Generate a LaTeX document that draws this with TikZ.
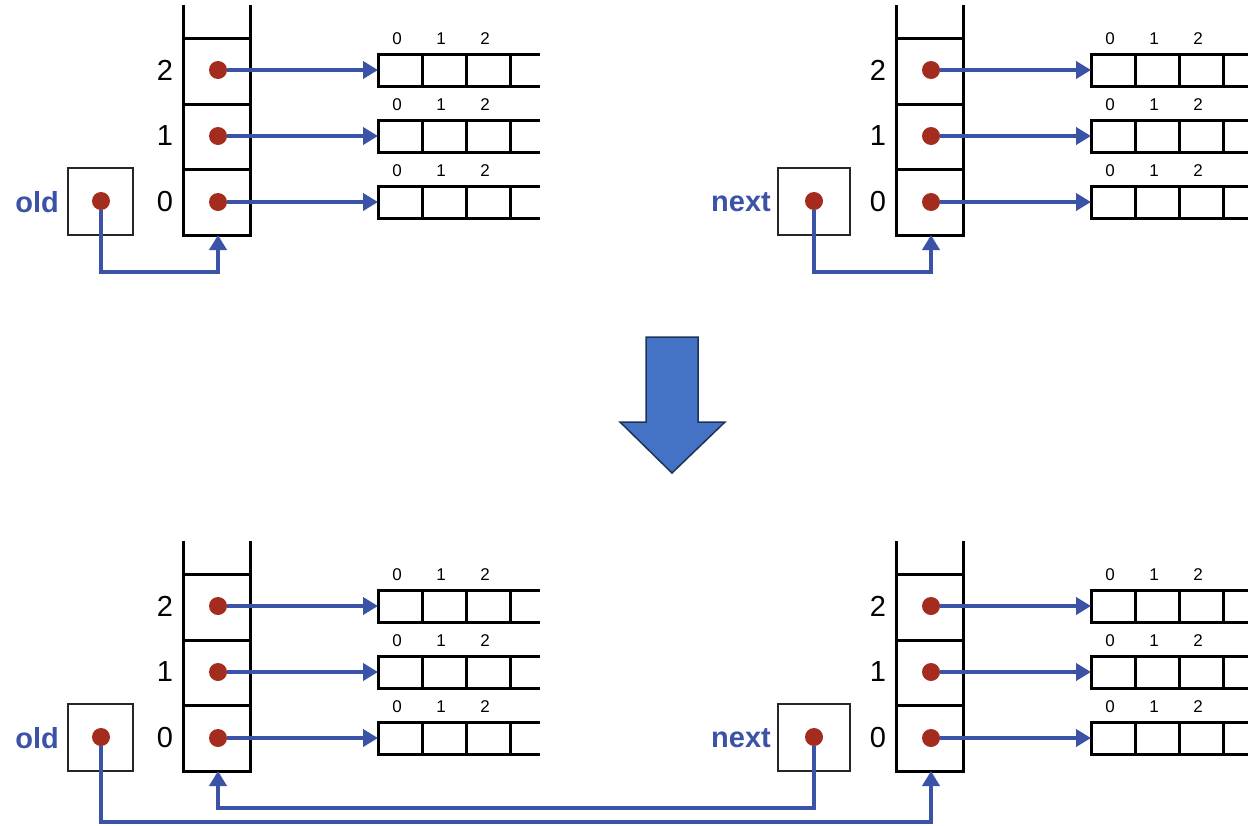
\documentclass[tikz,border=0pt]{standalone}
\usepackage{fontspec}
\newfontfamily\arialf{Liberation Sans}
\usetikzlibrary{arrows.meta}
\definecolor{ptrblue}{RGB}{59,83,166}
\definecolor{dotred}{RGB}{164,44,30}
\definecolor{bigblue}{RGB}{68,114,196}
\definecolor{bigborder}{RGB}{31,50,90}
\tikzset{
 stackline/.style={line width=3pt, black},
 cellbox/.style={draw, line width=3pt, minimum width=44.3pt, minimum height=32pt, inner sep=0pt, outer sep=0pt},
 ptrdot/.style={circle, fill=dotred, minimum size=18pt, inner sep=0pt},
 ptr/.style={draw=ptrblue, line width=4.5pt, -{Triangle[length=15pt,width=17pt]}},
 varbox/.style={draw=black!85, line width=1.5pt, minimum height=67pt, inner sep=0pt, outer sep=0pt},
 varlabel/.style={text=ptrblue, font=\arialf\bfseries\fontsize{29}{29}\selectfont, anchor=east, inner sep=0pt},
 idx/.style={font=\arialf\fontsize{29}{29}\selectfont, inner sep=0pt},
 hdr/.style={font=\arialf\fontsize{17}{17}\selectfont, inner sep=0pt},
 bigarrow/.style={fill=bigblue, draw=bigborder, line width=1.5pt, line join=miter},
}
\newcommand\drawpanel[3]{%
 \begin{scope}[shift={(#2,#3)}, name prefix=#1-]
  \draw[stackline] (183,5) -- (183,235) -- (250,235) -- (250,5);
  \draw[stackline] (183,38) -- (250,38) (183,104) -- (250,104) (183,169) -- (250,169);
  \coordinate (sb) at (218,235);
  \foreach \r/\y in {2/70,1/136,0/202} {
   \node[idx] (i\r) at (165,\y) {\r};
   \node[ptrdot] (d\r) at (218,\y) {};
   \node[cellbox] (a\r) at (400.15,\y) {};
   \node[cellbox] (b\r) at (444.45,\y) {};
   \node[cellbox] (c\r) at (488.75,\y) {};
   \draw[line width=3pt] (c\r.north east) -- ++(29,0) (c\r.south east) -- ++(29,0);
   \node[hdr] (h0\r) at (397,\y-31) {0};
   \node[hdr] (h1\r) at (441,\y-31) {1};
   \node[hdr] (h2\r) at (485,\y-31) {2};
   \draw[ptr] (d\r) -- (a\r.west);
  }
 \end{scope}}
\begin{document}
\begin{tikzpicture}[x=1pt,y=-1pt]
 \useasboundingbox (0,0) rectangle (1248,825);
 \clip (0,0) rectangle (1248,825);
 % top row
 \drawpanel{TL}{0}{0}
 \drawpanel{TR}{713}{0}
 \node[varbox, minimum width=65pt] (ob1) at (100.5,201.5) {};
 \node[ptrdot] (od1) at (101,201) {};
 \node[varlabel] (ol1) at (59,202) {old};
 \node[varbox, minimum width=72pt] (nb1) at (814,201.5) {};
 \node[ptrdot] (nd1) at (814,201) {};
 \node[varlabel] (nl1) at (771,202) {next};
 \draw[ptr] (od1.south) -- (od1.south |- 0,272) -| (TL-sb);
 \draw[ptr] (nd1.south) -- (nd1.south |- 0,272) -| (TR-sb);
 % big arrow
 \draw[bigarrow] (646,337) -- (698,337) -- (698,422) -- (725,422) -- (672,473) -- (620,422) -- (646,422) -- cycle;
 % bottom row
 \drawpanel{BL}{0}{536}
 \drawpanel{BR}{713}{536}
 \node[varbox, minimum width=65pt] (ob2) at (100.5,737.5) {};
 \node[ptrdot] (od2) at (101,737) {};
 \node[varlabel] (ol2) at (59,738) {old};
 \node[varbox, minimum width=72pt] (nb2) at (814,737.5) {};
 \node[ptrdot] (nd2) at (814,737) {};
 \node[varlabel] (nl2) at (771,738) {next};
 \draw[ptr] (nd2.south) -- (nd2.south |- 0,808) -| (BL-sb);
 \draw[ptr] (od2.south) -- (od2.south |- 0,822) -| (BR-sb);
\end{tikzpicture}
\end{document}
